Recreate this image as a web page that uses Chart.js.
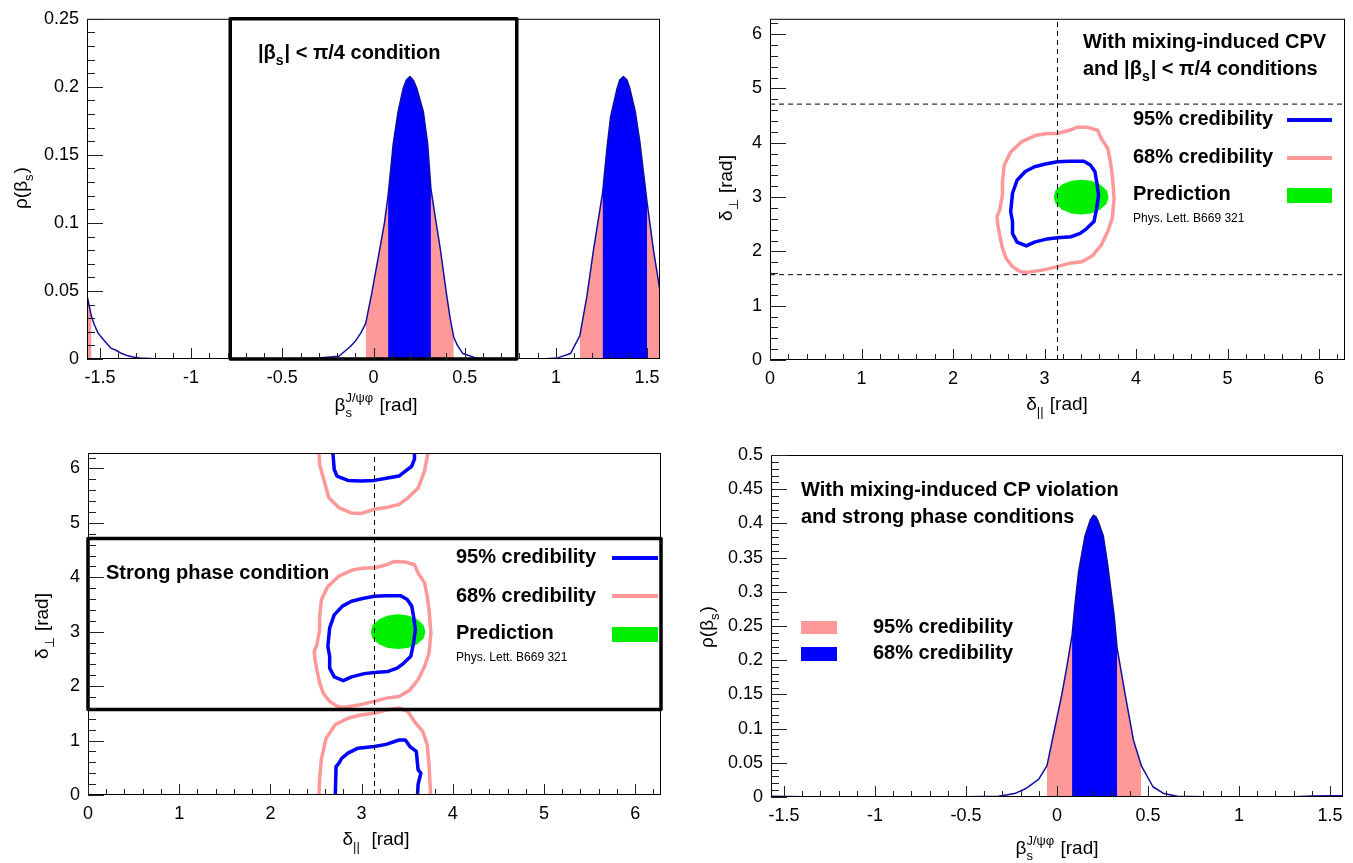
<!DOCTYPE html>
<html lang="en">
<head>
<meta charset="UTF-8" />
<title>beta_s and strong phase posteriors</title>
<script src="https://cdn.jsdelivr.net/npm/chart.js"></script>
<style>
  body { margin: 0; background: #fff; }
  canvas { position: absolute; }
</style>
</head>
<body>
<canvas id="c1" width="676" height="430" style="left:0;top:0"></canvas>
<canvas id="c2" width="677" height="430" style="left:676px;top:0"></canvas>
<canvas id="c3" width="676" height="433" style="left:0;top:430px"></canvas>
<canvas id="c4" width="677" height="433" style="left:676px;top:430px"></canvas>
<script>
const HALF_PI = Math.PI / 2
const TWO_PI = 2 * Math.PI

// ---- top left: rho(beta_s), |beta_s| < pi/4 ----
const p1BetaX = [
  -1.5708, -1.56, -1.546, -1.53, -1.51, -1.486, -1.46, -1.44, -1.415, -1.38, -1.35, -1.32, -1.28, -1.2, -1.1,
  -0.45, -0.30, -0.19, -0.128, -0.1, -0.07, -0.043, -0.01, 0.036, 0.06, 0.08, 0.108, 0.135, 0.163, 0.18, 0.20, 0.22,
  0.237, 0.273, 0.297, 0.315, 0.34, 0.365, 0.40, 0.42, 0.44, 0.46, 0.49, 0.56, 0.65,
  0.92, 1.01, 1.08, 1.131, 1.17, 1.206, 1.256, 1.28, 1.30, 1.334, 1.35, 1.37, 1.39, 1.405, 1.435, 1.46, 1.50, 1.535, 1.5708]
const p1Rho = [
  0.047, 0.040, 0.031, 0.025, 0.019, 0.015, 0.011, 0.008, 0.0066, 0.004, 0.0025, 0.0015, 0.0007, 0.0002, 0,
  0, 0.0007, 0.002, 0.009, 0.013, 0.019, 0.026, 0.048, 0.082, 0.100, 0.120, 0.158, 0.182, 0.199, 0.205, 0.2076, 0.2045,
  0.199, 0.182, 0.158, 0.125, 0.103, 0.082, 0.048, 0.030, 0.016, 0.010, 0.004, 0.0008, 0,
  0, 0.0008, 0.004, 0.017, 0.046, 0.080, 0.122, 0.155, 0.178, 0.198, 0.205, 0.2076, 0.205, 0.199, 0.182, 0.160, 0.115, 0.080, 0.050]
const p1Band95 = [[-1.5708, -1.546], [-0.043, 0.44], [1.131, 1.5708]]
const p1Band68 = [[0.08, 0.315], [1.256, 1.50]]
const betaTicks = [-1.5, -1, -0.5, 0, 0.5, 1, 1.5]
const p1RhoTicks = [0, 0.05, 0.1, 0.15, 0.2, 0.25]

// ---- bottom right: rho(beta_s) with strong phase conditions ----
const p4BetaX = [-1.5708, -1.3, -0.6, -0.32, -0.233, -0.173, -0.1, -0.055, -0.026, 0.028, 0.055, 0.083, 0.10, 0.119,
  0.154, 0.183, 0.20, 0.213, 0.226, 0.254, 0.278, 0.314, 0.33, 0.373, 0.42, 0.463, 0.527, 0.587, 0.66, 0.9, 1.2, 1.3, 1.4, 1.5, 1.5708]
const p4Rho = [0.001, 0, 0, 0.001, 0.005, 0.012, 0.026, 0.046, 0.083, 0.152, 0.192, 0.237, 0.285, 0.33,
  0.382, 0.405, 0.412, 0.41, 0.403, 0.382, 0.34, 0.265, 0.218, 0.152, 0.083, 0.046, 0.015, 0.005, 0.001, 0, 0, 0.0005, 0.0015, 0.002, 0.002]
const p4Band95 = [[-0.055, 0.463]]
const p4Band68 = [[0.083, 0.33]]
const p4RhoTicks = [0, 0.05, 0.1, 0.15, 0.2, 0.25, 0.3, 0.35, 0.4, 0.45, 0.5]

// ---- strong phases (delta_par, delta_perp) contours ----
const pinkCtrX = [3.14, 3.27, 3.36, 3.48, 3.58, 3.62, 3.69, 3.72, 3.74, 3.76, 3.74, 3.69, 3.62, 3.53, 3.41, 3.27, 3.14, 2.99,
  2.80, 2.73, 2.65, 2.58, 2.54, 2.51, 2.49, 2.48, 2.51, 2.54, 2.54, 2.56, 2.63, 2.75, 2.91, 3.03, 3.14]
const pinkCtrY = [4.17, 4.23, 4.29, 4.28, 4.23, 4.08, 3.90, 3.65, 3.40, 2.98, 2.61, 2.36, 2.12, 1.93, 1.81, 1.78, 1.72, 1.66,
  1.61, 1.63, 1.72, 1.87, 2.06, 2.30, 2.48, 2.64, 2.76, 3.04, 3.28, 3.59, 3.83, 4.02, 4.14, 4.17, 4.17]
const blueCtrX = [3.14, 3.27, 3.43, 3.50, 3.55, 3.57, 3.59, 3.57, 3.54, 3.46, 3.39, 3.29, 3.14, 3.03, 2.89, 2.80, 2.70,
  2.65, 2.65, 2.63, 2.65, 2.70, 2.79, 2.89, 3.01, 3.14]
const blueCtrY = [3.65, 3.66, 3.66, 3.59, 3.47, 3.28, 3.04, 2.79, 2.55, 2.42, 2.33, 2.27, 2.25, 2.23, 2.17, 2.10, 2.17,
  2.33, 2.55, 2.73, 3.07, 3.31, 3.47, 3.56, 3.61, 3.65]
// mirrored islands seen only in the strong phase panel
const pinkTopX = [2.53, 2.54, 2.59, 2.64, 2.75, 2.89, 2.99, 3.14, 3.27, 3.41, 3.51, 3.62, 3.69, 3.74]
const pinkTopY = [6.4, 6.07, 5.77, 5.46, 5.28, 5.18, 5.17, 5.25, 5.28, 5.34, 5.46, 5.64, 5.95, 6.4]
const blueTopX = [2.68, 2.70, 2.73, 2.85, 2.99, 3.14, 3.27, 3.41, 3.48, 3.55, 3.58, 3.58]
const blueTopY = [6.4, 5.98, 5.86, 5.78, 5.77, 5.78, 5.82, 5.86, 5.95, 6.04, 6.17, 6.4]
const pinkBotX = [2.53, 2.54, 2.56, 2.61, 2.71, 2.85, 2.99, 3.14, 3.27, 3.41, 3.51, 3.58, 3.67, 3.72, 3.74, 3.76]
const pinkBotY = [-0.1, 0.31, 0.67, 1.04, 1.29, 1.41, 1.47, 1.50, 1.56, 1.60, 1.53, 1.35, 1.17, 0.92, 0.55, -0.1]
const blueBotX = [2.71, 2.72, 2.75, 2.78, 2.85, 2.96, 3.14, 3.27, 3.41, 3.48, 3.53, 3.60, 3.62, 3.65, 3.62, 3.61]
const blueBotY = [-0.1, 0.52, 0.58, 0.67, 0.77, 0.86, 0.89, 0.93, 1.01, 1.01, 0.89, 0.80, 0.46, 0.40, 0.20, -0.1]
// prediction (Phys. Lett. B669 321) outline
const predX = [3.70, 3.68, 3.61, 3.51, 3.40, 3.29, 3.19, 3.12, 3.10, 3.12, 3.19, 3.29, 3.40, 3.51, 3.61, 3.68, 3.70]
const predY = [3.00, 3.12, 3.23, 3.30, 3.32, 3.30, 3.23, 3.12, 3.00, 2.88, 2.77, 2.70, 2.68, 2.70, 2.77, 2.88, 3.00]
const phaseTicks = [0, 1, 2, 3, 4, 5, 6]

const FONT = "'Liberation Sans', Arial, Helvetica, sans-serif"
const BLUE = '#0000ff', PINK = '#ff9999', GREEN = '#00f000', NAVY = '#1010a0'

function pts(xs, ys) {
  return xs.map((x, i) => ({ x: x, y: ys[i] }))
}
function inBand(xs, ys, band) {
  return pts(xs, ys).filter(p => p.x >= band[0] - 1e-6 && p.x <= band[1] + 1e-6)
}
function bandSets(xs, ys, bands, color) {
  return bands.map(b => ({ data: inBand(xs, ys, b), borderWidth: 0, backgroundColor: color, fill: 'origin' }))
}
function curve(data, color, width, extra) {
  return Object.assign({ data: data, borderColor: color, borderWidth: width, fill: false }, extra || {})
}
function rect(x0, x1, y0, y1) {
  return [{ x: x0, y: y0 }, { x: x1, y: y0 }, { x: x1, y: y1 }, { x: x0, y: y1 }, { x: x0, y: y0 }]
}

// rich text with sub/superscripts
function drawRich(ctx, t) {
  const w = t.bold ? 'bold ' : ''
  const big = w + t.size + 'px ' + FONT
  const small = w + Math.round(t.size * 0.7) + 'px ' + FONT
  const widthOf = p => {
    if (typeof p === 'string') { ctx.font = big; return ctx.measureText(p).width }
    ctx.font = small
    return Math.max(p.sub ? ctx.measureText(p.sub).width : 0, p.sup ? ctx.measureText(p.sup).width : 0) + 1
  }
  ctx.save()
  ctx.fillStyle = '#000'
  ctx.textBaseline = 'alphabetic'
  ctx.textAlign = 'left'
  const total = t.parts.reduce((a, p) => a + widthOf(p), 0)
  ctx.translate(t.x, t.y)
  if (t.rotate) ctx.rotate(-Math.PI / 2)
  let cx = t.align === 'center' ? -total / 2 : 0
  for (const p of t.parts) {
    const pw = widthOf(p)
    if (typeof p === 'string') {
      ctx.font = big
      ctx.fillText(p, cx, 0)
    } else {
      ctx.font = small
      if (p.sub) ctx.fillText(p.sub, cx, t.size * 0.32)
      if (p.sup) ctx.fillText(p.sup, cx, -t.size * 0.5)
    }
    cx += pw
  }
  ctx.restore()
}

const deco = {}

const rootStyle = {
  id: 'rootStyle',
  afterDatasetsDraw(chart) {
    const d = deco[chart.canvas.id]
    const { ctx, chartArea: a } = chart
    const xs = chart.scales.x, ys = chart.scales.y
    ctx.save()
    ctx.strokeStyle = '#000'
    ctx.lineWidth = 1
    ctx.strokeRect(a.left + 0.5, a.top + 0.5, a.width - 1, a.height - 1)
    ctx.strokeStyle = '#222'
    ctx.beginPath()
    for (let v = Math.ceil(xs.min / d.xMinor - 1e-6) * d.xMinor; v <= xs.max + 1e-9; v += d.xMinor) {
      const major = d.xMajor.some(m => Math.abs(m - v) < 1e-6)
      const px = Math.round(xs.getPixelForValue(v)) + 0.5
      ctx.moveTo(px, a.bottom)
      ctx.lineTo(px, a.bottom - (major ? 11 : 6))
    }
    for (let v = Math.ceil(ys.min / d.yMinor - 1e-6) * d.yMinor; v <= ys.max + 1e-9; v += d.yMinor) {
      const major = d.yMajor.some(m => Math.abs(m - v) < 1e-6)
      const py = Math.round(ys.getPixelForValue(v)) + 0.5
      ctx.moveTo(a.left, py)
      ctx.lineTo(a.left + (major ? 16 : 8), py)
    }
    ctx.stroke()
    ctx.restore()
  },
  afterDraw(chart) {
    const d = deco[chart.canvas.id]
    const ctx = chart.ctx
    for (const k of d.keys || []) {
      ctx.save()
      if (k.line) {
        ctx.strokeStyle = k.color
        ctx.lineWidth = 4
        ctx.beginPath()
        ctx.moveTo(k.x0, k.y)
        ctx.lineTo(k.x1, k.y)
        ctx.stroke()
      } else {
        ctx.fillStyle = k.color
        ctx.fillRect(k.x0, k.y0, k.x1 - k.x0, k.y1 - k.y0)
      }
      ctx.restore()
    }
    for (const t of d.texts) drawRich(ctx, t)
  }
}

function fmt(v) {
  return String(Math.round(v * 1000) / 1000)
}

function panel(id, g, xr, yr, xTicks, yTicks, datasets) {
  const tickFont = { family: FONT, size: 18 }
  return new Chart(document.getElementById(id), {
    type: 'line',
    data: { datasets: datasets },
    options: {
      responsive: false,
      animation: false,
      events: [],
      layout: { padding: { left: 0, top: g.top, right: g.right, bottom: 0 } },
      elements: { point: { radius: 0 }, line: { tension: 0, borderJoinStyle: 'round' } },
      plugins: { legend: { display: false }, tooltip: { enabled: false } },
      scales: {
        x: {
          type: 'linear', min: xr[0], max: xr[1],
          grid: { display: false, drawTicks: false }, border: { display: false },
          afterFit: s => { s.height = g.bottom },
          afterBuildTicks: s => { s.ticks = xTicks.map(v => ({ value: v })) },
          ticks: { font: tickFont, color: '#000', padding: 8, maxRotation: 0, autoSkip: false, callback: v => fmt(v) }
        },
        y: {
          type: 'linear', min: yr[0], max: yr[1],
          grid: { display: false, drawTicks: false }, border: { display: false },
          afterFit: s => { s.width = g.left },
          afterBuildTicks: s => { s.ticks = yTicks.map(v => ({ value: v })) },
          ticks: { font: tickFont, color: '#000', padding: 8, autoSkip: false, callback: v => fmt(v) }
        }
      }
    },
    plugins: [rootStyle]
  })
}

const dashed = { borderDash: [5, 4], clip: false }
const credText = (x, y1, y2, y3, y4) => [
  { parts: ['95% credibility'], x: x, y: y1, size: 20, bold: true },
  { parts: ['68% credibility'], x: x, y: y2, size: 20, bold: true },
  { parts: ['Prediction'], x: x, y: y3, size: 20, bold: true },
  { parts: ['Phys. Lett. B669 321'], x: x, y: y4, size: 12 }
]

// top left
deco.c1 = {
  xMinor: 0.1, yMinor: 0.01, xMajor: betaTicks, yMajor: p1RhoTicks,
  texts: [
    { parts: ['|β', { sub: 's' }, '| < π/4 condition'], x: 258, y: 59, size: 20, bold: true },
    { parts: ['ρ(β', { sub: 's' }, ')'], x: 27, y: 188, size: 19, rotate: true, align: 'center' },
    { parts: ['β', { sub: 's', sup: 'J/ψφ' }, ' [rad]'], x: 376, y: 411, size: 19, align: 'center' }
  ]
}
panel('c1', { left: 87, top: 17, right: 16, bottom: 71 }, [-HALF_PI, HALF_PI], [0, 0.25], betaTicks, p1RhoTicks, [
  curve(rect(-Math.PI / 4, Math.PI / 4, 0, 0.25), '#000', 3.5, { clip: false }),
  curve(pts(p1BetaX, p1Rho), NAVY, 1.5),
  ...bandSets(p1BetaX, p1Rho, p1Band68, BLUE),
  ...bandSets(p1BetaX, p1Rho, p1Band95, PINK)
])

// top right
deco.c2 = {
  xMinor: 0.2, yMinor: 0.2, xMajor: phaseTicks, yMajor: phaseTicks,
  keys: [
    { line: true, color: BLUE, x0: 611, x1: 656, y: 120 },
    { line: true, color: PINK, x0: 611, x1: 656, y: 158 },
    { color: GREEN, x0: 611, x1: 656, y0: 188, y1: 203 }
  ],
  texts: [
    { parts: ['With mixing-induced CPV'], x: 407, y: 48, size: 20, bold: true },
    { parts: ['and |β', { sub: 's' }, '| < π/4 conditions'], x: 407, y: 75, size: 20, bold: true },
    ...credText(457, 125, 163, 200, 222),
    { parts: ['δ', { sub: '⊥' }, ' [rad]'], x: 56, y: 188, size: 19, rotate: true, align: 'center' },
    { parts: ['δ', { sub: '||' }, ' [rad]'], x: 381, y: 410, size: 19, align: 'center' }
  ]
}
panel('c2', { left: 94, top: 16, right: 8, bottom: 70 }, [0, TWO_PI], [0, TWO_PI], phaseTicks, phaseTicks, [
  curve([{ x: Math.PI, y: 0 }, { x: Math.PI, y: TWO_PI }], '#000', 1, dashed),
  curve([{ x: 0, y: HALF_PI }, { x: TWO_PI, y: HALF_PI }], '#000', 1, dashed),
  curve([{ x: 0, y: 3 * HALF_PI }, { x: TWO_PI, y: 3 * HALF_PI }], '#000', 1, dashed),
  curve(pts(blueCtrX, blueCtrY), BLUE, 3.5),
  curve(pts(pinkCtrX, pinkCtrY), PINK, 3.5),
  { data: pts(predX, predY), borderWidth: 0, backgroundColor: GREEN, fill: 'shape' }
])

// bottom left
deco.c3 = {
  xMinor: 0.2, yMinor: 0.2, xMajor: phaseTicks, yMajor: phaseTicks,
  keys: [
    { line: true, color: BLUE, x0: 612, x1: 658, y: 128 },
    { line: true, color: PINK, x0: 612, x1: 658, y: 166 },
    { color: GREEN, x0: 612, x1: 658, y0: 197, y1: 212 }
  ],
  texts: [
    { parts: ['Strong phase condition'], x: 106, y: 149, size: 20, bold: true },
    ...credText(456, 133, 172, 209, 231),
    { parts: ['δ', { sub: '⊥' }, ' [rad]'], x: 48, y: 196, size: 19, rotate: true, align: 'center' },
    { parts: ['δ', { sub: '||' }, '  [rad]'], x: 376, y: 415, size: 19, align: 'center' }
  ]
}
panel('c3', { left: 88, top: 23, right: 15, bottom: 68 }, [0, TWO_PI], [0, TWO_PI], phaseTicks, phaseTicks, [
  curve(rect(0, TWO_PI, HALF_PI, 3 * HALF_PI), '#000', 3.5, { clip: false }),
  curve([{ x: Math.PI, y: 0 }, { x: Math.PI, y: TWO_PI }], '#000', 1, dashed),
  curve(pts(blueCtrX, blueCtrY), BLUE, 3.5),
  curve(pts(blueTopX, blueTopY), BLUE, 3.5),
  curve(pts(blueBotX, blueBotY), BLUE, 3.5),
  curve(pts(pinkCtrX, pinkCtrY), PINK, 3.5),
  curve(pts(pinkTopX, pinkTopY), PINK, 3.5),
  curve(pts(pinkBotX, pinkBotY), PINK, 3.5),
  { data: pts(predX, predY), borderWidth: 0, backgroundColor: GREEN, fill: 'shape' }
])

// bottom right
deco.c4 = {
  xMinor: 0.1, yMinor: 0.01, xMajor: betaTicks, yMajor: p4RhoTicks,
  keys: [
    { color: PINK, x0: 125, x1: 161, y0: 191, y1: 204 },
    { color: BLUE, x0: 125, x1: 161, y0: 217, y1: 231 }
  ],
  texts: [
    { parts: ['With mixing-induced CP violation'], x: 125, y: 66, size: 20, bold: true },
    { parts: ['and strong phase conditions'], x: 125, y: 93, size: 20, bold: true },
    { parts: ['95% credibility'], x: 197, y: 203, size: 20, bold: true },
    { parts: ['68% credibility'], x: 197, y: 229, size: 20, bold: true },
    { parts: ['ρ(β', { sub: 's' }, ')'], x: 37, y: 197, size: 19, rotate: true, align: 'center' },
    { parts: ['β', { sub: 's', sup: 'J/ψφ' }, ' [rad]'], x: 381, y: 424, size: 19, align: 'center' }
  ]
}
panel('c4', { left: 95, top: 25, right: 10, bottom: 66 }, [-HALF_PI, HALF_PI], [0, 0.5], betaTicks, p4RhoTicks, [
  curve(pts(p4BetaX, p4Rho), NAVY, 1.5),
  ...bandSets(p4BetaX, p4Rho, p4Band68, BLUE),
  ...bandSets(p4BetaX, p4Rho, p4Band95, PINK)
])
</script>
</body>
</html>
